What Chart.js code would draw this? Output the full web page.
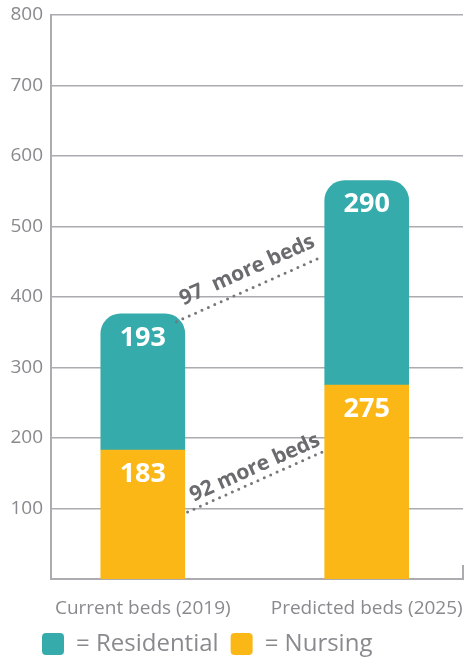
<!DOCTYPE html>
<html>
<head>
<meta charset="utf-8">
<script src="https://cdn.jsdelivr.net/npm/chart.js@4"></script>
<style>
  html, body { margin: 0; padding: 0; background: #fff; }
  #wrap { width: 471px; height: 657px; }
</style>
</head>
<body>
<div id="wrap"><canvas id="bedsChart"></canvas></div>
<script>
// categories and series
const categories = ['Current beds (2019)', 'Predicted beds (2025)'];
const nursing = [183, 275];
const residential = [193, 290];
const yTicks = [100, 200, 300, 400, 500, 600, 700, 800];

// "more beds" connectors (x in category units, y in beds)
const connectors = [
    { x1: 0.15, y1: 365, x2: 0.8, y2: 457, text: (residential[1] - residential[0]) + '  more beds', lift: 18 },
    { x1: 0.2, y1: 95, x2: 0.8, y2: 180, text: (nursing[1] - nursing[0]) + ' more beds', lift: 13 }
];

const TEAL = '#36abab';
const YELLOW = '#fbb715';
const GRID = '#acacb0';
const TXT = '#8a8a8e';

// white totals at the top of each segment
const valueLabels = {
    id: 'valueLabels',
    afterDatasetsDraw(chart) {
        const ctx = chart.ctx;
        ctx.save();
        ctx.fillStyle = '#fff';
        ctx.font = 'bold 27px "Open Sans", sans-serif';
        ctx.textAlign = 'center';
        ctx.textBaseline = 'middle';
        chart.data.datasets.forEach((ds, i) => {
            chart.getDatasetMeta(i).data.forEach((bar, j) => {
                ctx.fillText(ds.data[j].y, bar.x, bar.y + 24);
            });
        });
        ctx.restore();
    }
};

// dotted connectors with rotated text
const connectorLines = {
    id: 'connectorLines',
    afterDatasetsDraw(chart) {
        const ctx = chart.ctx;
        const xs = chart.scales.x, ys = chart.scales.y;
        connectors.forEach(c => {
            const ax = xs.getPixelForValue(c.x1), ay = ys.getPixelForValue(c.y1);
            const bx = xs.getPixelForValue(c.x2), by = ys.getPixelForValue(c.y2);
            ctx.save();
            ctx.strokeStyle = '#77777b';
            ctx.lineWidth = 3;
            ctx.lineCap = 'round';
            ctx.setLineDash([0, 7]);
            ctx.beginPath();
            ctx.moveTo(ax, ay);
            ctx.lineTo(bx, by);
            ctx.stroke();
            const ang = Math.atan2(by - ay, bx - ax);
            ctx.translate((ax + bx) / 2, (ay + by) / 2);
            ctx.rotate(ang);
            ctx.fillStyle = '#6b6b6f';
            ctx.font = 'bold 21px "Open Sans", sans-serif';
            ctx.textAlign = 'center';
            ctx.textBaseline = 'middle';
            ctx.fillText(c.text, 6, -c.lift);
            ctx.restore();
        });
    }
};

// small upright tick at the right end of the x axis + legend placement
const axisEnd = {
    id: 'axisEnd',
    afterLayout(chart) {
        const lg = chart.legend;
        lg.left += 30;
        lg.right += 30;
        lg.top -= 5;
        lg.bottom -= 5;
    },
    afterDraw(chart) {
        const a = chart.chartArea, ctx = chart.ctx;
        ctx.save();
        ctx.strokeStyle = GRID;
        ctx.lineWidth = 2;
        ctx.beginPath();
        ctx.moveTo(a.right, a.bottom);
        ctx.lineTo(a.right, a.bottom - 14);
        ctx.stroke();
        ctx.restore();
    }
};

new Chart(document.getElementById('bedsChart'), {
    type: 'bar',
    data: {
        datasets: [
            {
                label: '= Nursing',
                data: nursing.map((v, i) => ({ x: i, y: v })),
                backgroundColor: YELLOW,
                borderRadius: 0,
                borderSkipped: false
            },
            {
                label: '= Residential',
                data: residential.map((v, i) => ({ x: i, y: v })),
                backgroundColor: TEAL,
                borderRadius: { topLeft: 20, topRight: 20, bottomLeft: 0, bottomRight: 0 },
                borderSkipped: false
            }
        ]
    },
    options: {
        responsive: true,
        maintainAspectRatio: false,
        animation: false,
        barThickness: 84,
        layout: { padding: { top: 15, right: 8, left: 0, bottom: -14 } },
        scales: {
            x: {
                type: 'linear',
                stacked: true,
                offset: false,
                min: -0.41,
                max: 1.43,
                afterBuildTicks: (s) => { s.ticks = categories.map((c, i) => ({ value: i })); },
                afterFit: (s) => { s.height = 46; s.paddingLeft = 0; s.paddingRight = 0; },
                ticks: {
                    callback: (v) => categories[v],
                    color: TXT,
                    font: { family: '"Open Sans", sans-serif', size: 19 },
                    padding: 10,
                    maxRotation: 0
                },
                grid: { display: false },
                border: { color: GRID, width: 2 }
            },
            y: {
                stacked: true,
                min: 0,
                max: 800,
                afterBuildTicks: (s) => { s.ticks = yTicks.map(v => ({ value: v })); },
                afterFit: (s) => { s.width = 51; s.paddingTop = 0; s.paddingBottom = 0; },
                ticks: {
                    color: TXT,
                    font: { family: '"Open Sans", sans-serif', size: 19 },
                    padding: 8
                },
                grid: { color: GRID, lineWidth: 1.5, tickLength: 0 },
                border: { color: GRID, width: 2 }
            }
        },
        plugins: {
            legend: {
                position: 'bottom',
                align: 'start',
                reverse: true,
                labels: {
                    boxWidth: 22,
                    boxHeight: 22,
                    useBorderRadius: true,
                    borderRadius: 4,
                    padding: 12,
                    color: TXT,
                    font: { family: '"Open Sans", sans-serif', size: 24 }
                }
            },
            tooltip: { enabled: false }
        }
    },
    plugins: [valueLabels, connectorLines, axisEnd]
});
</script>
</body>
</html>
